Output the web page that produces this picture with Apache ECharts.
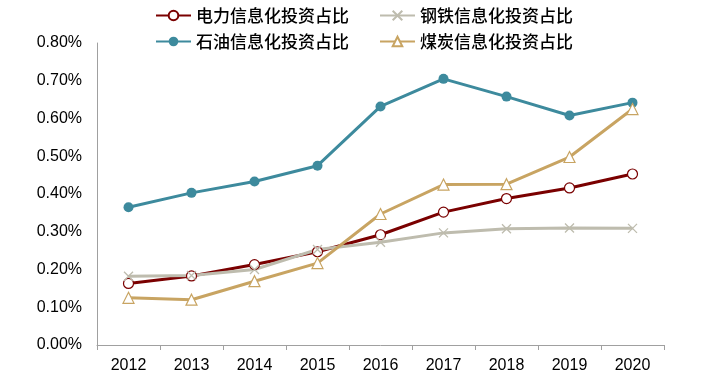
<!DOCTYPE html>
<html>
<head>
<meta charset="utf-8">
<script src="https://cdn.jsdelivr.net/npm/echarts@6/dist/echarts.min.js"></script>
<style>html,body{margin:0;padding:0;background:#fff;}#c{width:703px;height:390px;}</style>
</head>
<body>
<div id="c"></div>
<script>
const categories = ['2012','2013','2014','2015','2016','2017','2018','2019','2020'];
const powerName = '电力信息化投资占比';
const steelName = '钢铁信息化投资占比';
const oilName = '石油信息化投资占比';
const coalName = '煤炭信息化投资占比';
const power = [0.163, 0.183, 0.213, 0.247, 0.292, 0.352, 0.388, 0.416, 0.453];
const steel = [0.182, 0.184, 0.200, 0.253, 0.272, 0.297, 0.308, 0.310, 0.309];
const oil   = [0.365, 0.403, 0.433, 0.475, 0.632, 0.705, 0.658, 0.608, 0.642];
const coal  = [0.125, 0.120, 0.169, 0.217, 0.347, 0.425, 0.426, 0.498, 0.625];
const yTicks = { min: 0, max: 0.8, interval: 0.1 };

const chart = echarts.init(document.getElementById('c'), null, { renderer: 'canvas' });
const legendText = { fontFamily: 'Noto Sans CJK SC', fontSize: 17, color: '#000', fontWeight: 500 };
const crossPath = 'path://M0 0L10 10M10 0L0 10';
chart.setOption({
  animation: false,
  legend: [
    { data: [powerName, steelName], left: 150, top: 2, itemWidth: 35, itemHeight: 12, itemGap: 30, textStyle: legendText },
    { data: [oilName, coalName], left: 150, top: 28, itemWidth: 35, itemHeight: 12, itemGap: 30, textStyle: legendText }
  ],
  grid: { left: 97, right: 39, top: 43, bottom: 45 },
  xAxis: {
    type: 'category',
    data: categories,
    boundaryGap: true,
    axisLine: { lineStyle: { color: '#A0A0A0', width: 1 } },
    axisTick: { show: true, length: 5, lineStyle: { color: '#A0A0A0' } },
    axisLabel: { fontFamily: 'Liberation Sans', fontSize: 16, color: '#000', margin: 13 }
  },
  yAxis: {
    type: 'value',
    min: yTicks.min, max: yTicks.max, interval: yTicks.interval,
    axisLine: { show: true, lineStyle: { color: '#A0A0A0', width: 1 } },
    axisTick: { show: false },
    splitLine: { show: false },
    axisLabel: { fontFamily: 'Liberation Sans', fontSize: 16, color: '#000', margin: 15,
      formatter: v => v.toFixed(2) + '%' }
  },
  series: [
    { name: powerName, type: 'line', data: power, symbol: 'circle', symbolSize: 10,
      lineStyle: { color: '#7A0000', width: 3 },
      itemStyle: { color: '#fff', borderColor: '#7A0000', borderWidth: 1.2 } },
    { name: steelName, type: 'line', data: steel, symbol: crossPath, symbolSize: 9,
      lineStyle: { color: '#BEBCAE', width: 3 },
      itemStyle: { color: '#BEBCAE', borderColor: '#BEBCAE', borderWidth: 1.3 } },
    { name: oilName, type: 'line', data: oil, symbol: 'circle', symbolSize: 10,
      lineStyle: { color: '#3D8A9D', width: 3 },
      itemStyle: { color: '#3D8A9D', borderColor: '#3D8A9D', borderWidth: 0 } },
    { name: coalName, type: 'line', data: coal, symbol: 'triangle', symbolSize: 11,
      lineStyle: { color: '#C8A462', width: 3 },
      itemStyle: { color: '#fff', borderColor: '#C8A462', borderWidth: 1.2 } }
  ]
});
</script>
</body>
</html>
